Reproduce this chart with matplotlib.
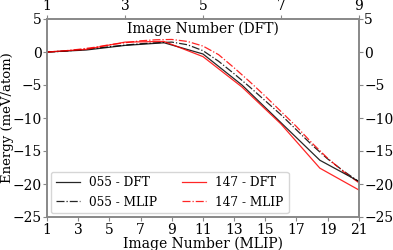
import matplotlib
matplotlib.use("Agg")
import matplotlib.pyplot as plt
import numpy as np

dft_images = [1, 2, 3, 4, 5, 6, 7, 8, 9]
mlip_images = list(range(1, 22))

dft_055 = [0, 0.3, 1.0, 1.4, -0.3, -5.0, -10.7, -16.4, -19.6]
dft_147 = [0, 0.4, 1.5, 1.6, -0.7, -5.3, -10.9, -17.6, -20.9]
mlip_055 = [0, 0.1, 0.3, 0.55, 0.8, 1.05, 1.25, 1.4, 1.5, 1.1, 0.2, -1.4, -3.3,
            -5.3, -7.4, -9.5, -11.8, -14.1, -16.2, -18.0, -19.65]
mlip_147 = [0, 0.15, 0.4, 0.7, 1.1, 1.4, 1.7, 1.85, 1.9, 1.6, 0.9, -0.4, -2.4,
            -4.5, -6.7, -9.0, -11.3, -13.8, -16.1, -18.1, -19.8]

plt.rcParams['font.family'] = 'DejaVu Serif'
fig = plt.figure(figsize=(3.93, 2.5), dpi=100)
ax = fig.add_axes([0.12, 0.132, 0.793, 0.792])
ax2 = ax.twiny()

gray = '#888888'
l2, = ax.plot(mlip_images, mlip_055, color='black', ls='-.', lw=0.9, alpha=0.85, label='055 - MLIP')
l4, = ax.plot(mlip_images, mlip_147, color='red', ls='-.', lw=0.9, alpha=0.85, label='147 - MLIP')
l1, = ax2.plot(dft_images, dft_055, color='black', ls='-', lw=0.9, alpha=0.85, label='055 - DFT')
l3, = ax2.plot(dft_images, dft_147, color='red', ls='-', lw=0.9, alpha=0.85, label='147 - DFT')

ax.set_xlim(1, 21)
ax.set_ylim(-25, 5)
ax.set_xticks(range(1, 22, 2))
ax.set_yticks(range(-25, 6, 5))
ax2.set_xlim(1, 9)
ax2.set_xticks(range(1, 10, 2))

fs = 10
ax.tick_params(axis='both', labelsize=fs, color=gray, length=3, right=True, labelright=True, pad=1)
ax2.tick_params(axis='x', labelsize=fs, color=gray, length=3, pad=1)
for a in (ax, ax2):
    for s in a.spines.values():
        s.set_color(gray)
        s.set_linewidth(1.2)

ax.set_xlabel('Image Number (MLIP)', fontsize=fs, labelpad=0)
ax.set_ylabel('Energy (meV/atom)', fontsize=9.5)
ax.yaxis.set_label_coords(-0.108, 0.5)
ax2.set_xlabel('Image Number (DFT)', fontsize=fs, labelpad=-24)

ax2.legend(handles=[l1, l2, l3, l4], loc='lower left', ncol=2, fontsize=8.7,
           frameon=True, handlelength=2.0, columnspacing=2.0, borderaxespad=0.3)

fig.savefig('out.png', dpi=100)
